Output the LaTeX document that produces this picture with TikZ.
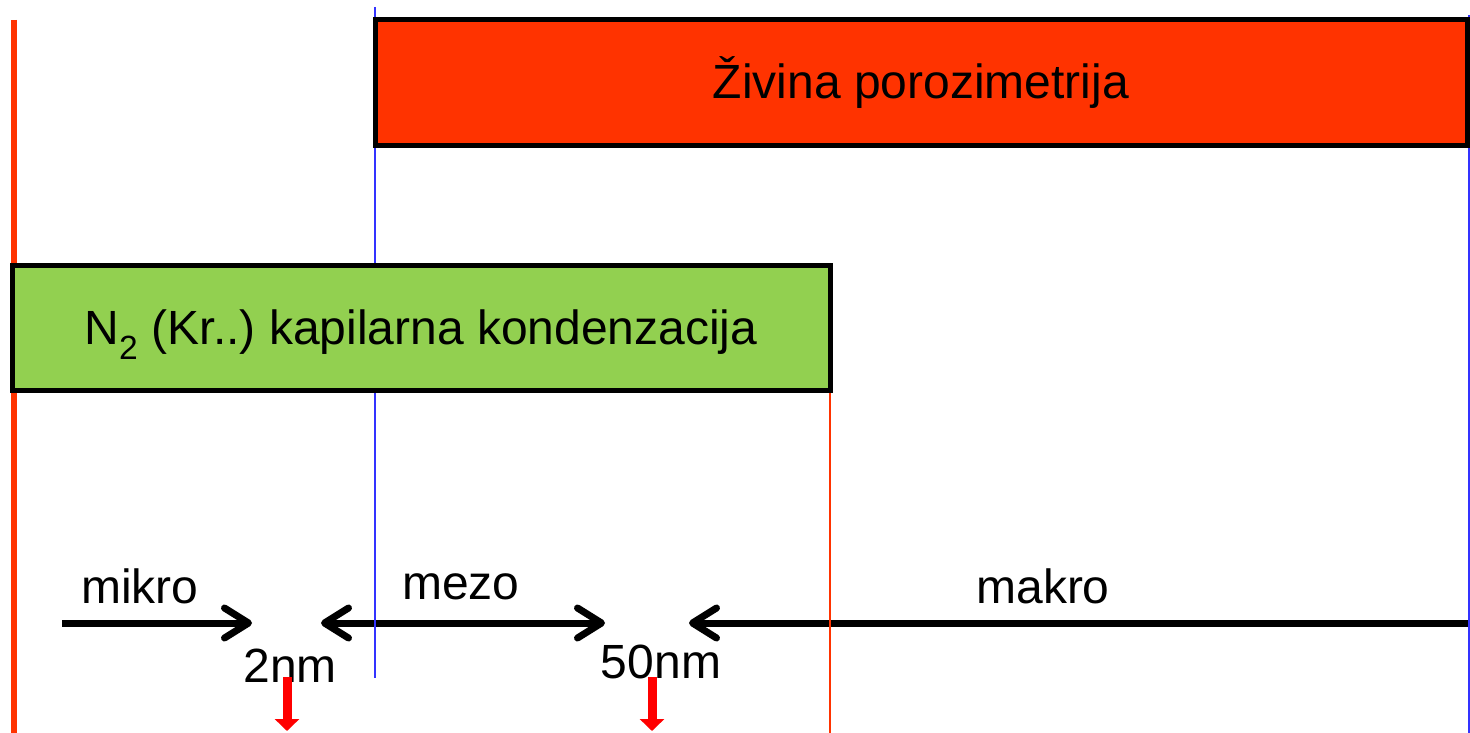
\documentclass[tikz,border=0pt]{standalone}
\usepackage{fontspec}
\setmainfont{Liberation Sans}
\usetikzlibrary{arrows.meta}
\definecolor{hgred}{HTML}{FF3300}
\definecolor{ngreen}{HTML}{92D050}
\definecolor{vblue}{HTML}{3333FF}
\definecolor{mark}{HTML}{FF0000}
\frenchspacing
\begin{document}
\begin{tikzpicture}[x=1pt,y=-1pt,
  bigfont/.style={font=\fontsize{48}{56}\selectfont},
  lbl/.style={bigfont, inner sep=0pt, anchor=base},
  boxst/.style={draw=black, line width=5pt, inner sep=0pt, bigfont},
  scalearrow/.style={line width=7pt, draw=black},
  >={Straight Barb[length=24pt,width=30pt,round]},
  vline/.style={line width=#1},
  markarrow/.style={draw=mark, line width=9pt, -{Triangle[length=12pt,width=24pt]}}]
\useasboundingbox (0,0) rectangle (1470,733);
% scale arrows
\coordinate (mi0) at (62,623);
\coordinate (mi1) at (252,623);
\coordinate (me0) at (321,623);
\coordinate (me1) at (605,623);
\coordinate (ma0) at (689,623);
\coordinate (ma1) at (1472,623);
\draw[scalearrow, ->] (mi0) -- (mi1);
\draw[scalearrow, <->] (me0) -- (me1);
\draw[scalearrow, <-] (ma0) -- (ma1);
% vertical lines
\coordinate (l0) at (13.5,20);
\coordinate (l1) at (13.5,733);
\coordinate (b0) at (375,7);
\coordinate (b1) at (375,678);
\coordinate (r0) at (1469,15);
\coordinate (r1) at (1469,733);
\coordinate (g0) at (830,390);
\coordinate (g1) at (830,733);
\draw[vline=6pt, draw=hgred] (l0) -- (l1);
\draw[vline=2pt, draw=vblue] (b0) -- (b1);
\draw[vline=2pt, draw=vblue] (r0) -- (r1);
\draw[vline=2pt, draw=hgred] (g0) -- (g1);
% boxes
\node[boxst, fill=hgred, minimum width=1092pt, minimum height=126pt] (hg) at (921,83) {Živina porozimetrija};
\node[boxst, fill=ngreen, minimum width=818pt, minimum height=125pt] (n2) at (421,327.5) {\raisebox{-7pt}[\height][\depth]{N\textsubscript{2} (Kr..) kapilarna kondenzacija}};
% labels
\node[lbl] (tmikro) at (140,603) {mikro};
\node[lbl] (tmezo) at (461,599) {mezo};
\node[lbl] (tmakro) at (1043,603) {makro};
\node[lbl] (t2) at (290,682) {2nm};
\node[lbl] (t50) at (661,678) {50nm};
% red markers
\coordinate (m1a) at (287,677);
\coordinate (m1b) at (287,731);
\coordinate (m2a) at (652,677);
\coordinate (m2b) at (652,731);
\draw[markarrow] (m1a) -- (m1b);
\draw[markarrow] (m2a) -- (m2b);
\end{tikzpicture}
\end{document}
